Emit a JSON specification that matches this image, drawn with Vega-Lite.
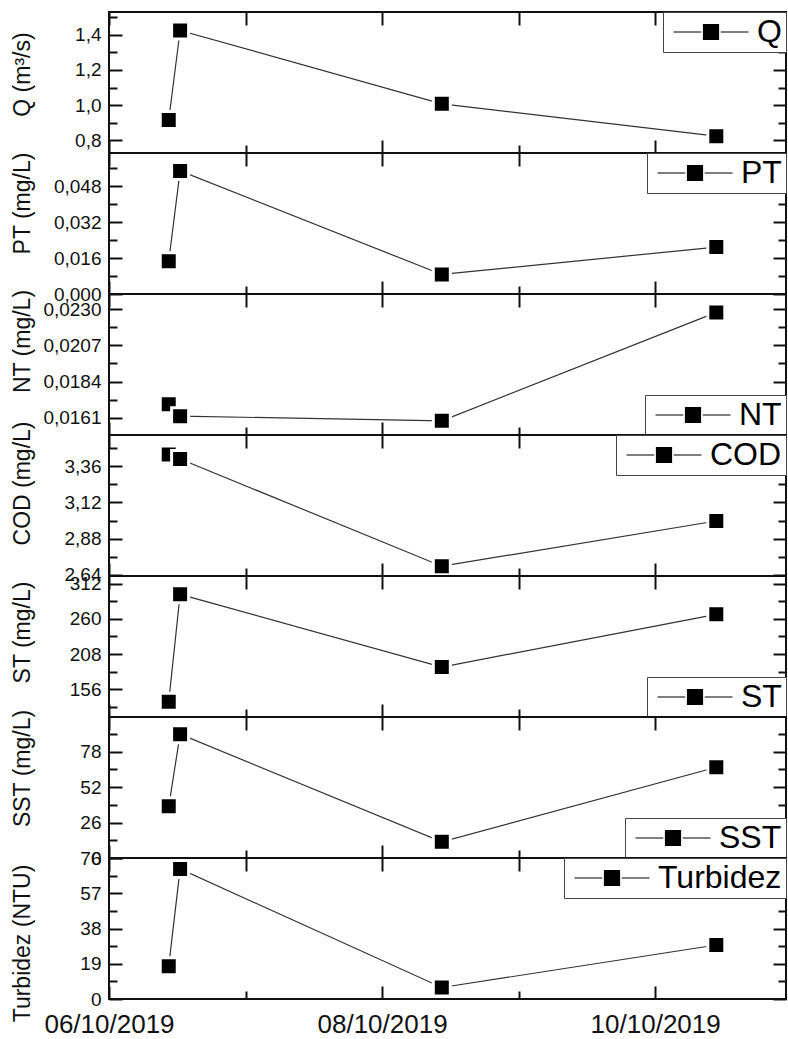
{
"$schema": "https://vega.github.io/schema/vega-lite/v6.json",
"padding": {"left": 10, "top": 10, "right": 0, "bottom": 0},
"data": {"values": [
{"serie":"Q","t":"2019-10-06T10:30:00","v":0.915},{"serie":"Q","t":"2019-10-06T12:30:00","v":1.425},{"serie":"Q","t":"2019-10-08T10:30:00","v":1.007},{"serie":"Q","t":"2019-10-10T10:45:00","v":0.823},
{"serie":"PT","t":"2019-10-06T10:30:00","v":0.0146},{"serie":"PT","t":"2019-10-06T12:30:00","v":0.0548},{"serie":"PT","t":"2019-10-08T10:30:00","v":0.0087},{"serie":"PT","t":"2019-10-10T10:45:00","v":0.0209},
{"serie":"NT","t":"2019-10-06T10:30:00","v":0.01695},{"serie":"NT","t":"2019-10-06T12:30:00","v":0.0162},{"serie":"NT","t":"2019-10-08T10:30:00","v":0.0159},{"serie":"NT","t":"2019-10-10T10:45:00","v":0.0228},
{"serie":"COD","t":"2019-10-06T10:30:00","v":3.438},{"serie":"COD","t":"2019-10-06T12:30:00","v":3.409},{"serie":"COD","t":"2019-10-08T10:30:00","v":2.697},{"serie":"COD","t":"2019-10-10T10:45:00","v":2.997},
{"serie":"ST","t":"2019-10-06T10:30:00","v":137.7},{"serie":"ST","t":"2019-10-06T12:30:00","v":296.3},{"serie":"ST","t":"2019-10-08T10:30:00","v":188.8},{"serie":"ST","t":"2019-10-10T10:45:00","v":266.8},
{"serie":"SST","t":"2019-10-06T10:30:00","v":37.9},{"serie":"SST","t":"2019-10-06T12:30:00","v":90.9},{"serie":"SST","t":"2019-10-08T10:30:00","v":11.9},{"serie":"SST","t":"2019-10-10T10:45:00","v":66.6},
{"serie":"Turbidez","t":"2019-10-06T10:30:00","v":17.7},{"serie":"Turbidez","t":"2019-10-06T12:30:00","v":70.1},{"serie":"Turbidez","t":"2019-10-08T10:30:00","v":6.2},{"serie":"Turbidez","t":"2019-10-10T10:45:00","v":29.1}
]},
"spacing": 0,
"bounds": "flush",
"resolve": {"scale": {"x": "independent", "y": "independent", "color": "independent"}, "legend": {"color": "independent"}},
"vconcat": [
{"width": 677, "height": 141, "transform": [{"filter": "datum.serie === 'Q'"}], "resolve": {"axis": {"x": "independent", "y": "independent"}},
 "layer": [
  {"mark": {"type": "line", "color": "#333", "strokeWidth": 1.2},
   "encoding": {
    "x": {"field": "t", "type": "temporal", "scale": {"domain": [{"year":2019,"month":10,"date":6},{"year":2019,"month":10,"date":10,"hours":23}], "nice": false}, "axis": {"orient": "bottom", "values": [{"year":2019,"month":10,"date":6},{"year":2019,"month":10,"date":8},{"year":2019,"month":10,"date":10}], "labels": false, "tickSize": -13, "title": null}},
    "y": {"field": "v", "type": "quantitative", "scale": {"domain": [0.727, 1.53], "nice": false, "zero": false}, "axis": {"orient": "left", "values": [0.8, 1.0, 1.2, 1.4], "labelExpr": "replace(format(datum.value, '.1f'), '.', ',')", "tickSize": -13, "labelPadding": 21, "labelFontSize": 19, "title": "Q (m³/s)", "titleFontSize": 23, "titleY": 62, "minExtent": 70, "maxExtent": 70, "titlePadding": 5}}}},
  {"mark": {"type": "point", "shape": "square", "filled": true, "size": 289, "stroke": "white", "strokeWidth": 3, "opacity": 1},
   "encoding": {
    "x": {"field": "t", "type": "temporal", "scale": {"domain": [{"year":2019,"month":10,"date":6},{"year":2019,"month":10,"date":10,"hours":23}], "nice": false}, "axis": {"orient": "bottom", "values": [{"year":2019,"month":10,"date":7},{"year":2019,"month":10,"date":9}], "labels": false, "tickSize": -8, "title": null}},
    "y": {"field": "v", "type": "quantitative", "scale": {"domain": [0.727, 1.53], "nice": false, "zero": false}, "axis": {"orient": "left", "values": [0.9, 1.1, 1.3, 1.5], "labels": false, "tickSize": -8, "title": null}},
    "color": {"field": "serie", "type": "nominal", "scale": {"range": ["black"]}, "legend": {"title": null, "orient": "top-right"}}}},
  {"mark": {"type": "point", "opacity": 0},
   "encoding": {
    "x": {"field": "t", "type": "temporal", "scale": {"domain": [{"year":2019,"month":10,"date":6},{"year":2019,"month":10,"date":10,"hours":23}], "nice": false}, "axis": {"orient": "top", "values": [{"year":2019,"month":10,"date":6},{"year":2019,"month":10,"date":7},{"year":2019,"month":10,"date":8},{"year":2019,"month":10,"date":9},{"year":2019,"month":10,"date":10}], "labels": false, "tickSize": -13, "title": null}},
    "y": {"field": "v", "type": "quantitative", "scale": {"domain": [0.727, 1.53], "nice": false, "zero": false}, "axis": {"orient": "right", "values": [0.8, 1.0, 1.2, 1.4], "labels": false, "tickSize": -13, "title": null}}}},
  {"mark": {"type": "point", "opacity": 0},
   "encoding": {
    "x": {"field": "t", "type": "temporal", "scale": {"domain": [{"year":2019,"month":10,"date":6},{"year":2019,"month":10,"date":10,"hours":23}], "nice": false}, "axis": null},
    "y": {"field": "v", "type": "quantitative", "scale": {"domain": [0.727, 1.53], "nice": false, "zero": false}, "axis": {"orient": "right", "values": [0.9, 1.1, 1.3, 1.5], "labels": false, "tickSize": -8, "title": null}}}}
 ]},
{"width": 677, "height": 141, "transform": [{"filter": "datum.serie === 'PT'"}], "resolve": {"axis": {"x": "independent", "y": "independent"}},
 "layer": [
  {"mark": {"type": "line", "color": "#333", "strokeWidth": 1.2},
   "encoding": {
    "x": {"field": "t", "type": "temporal", "scale": {"domain": [{"year":2019,"month":10,"date":6},{"year":2019,"month":10,"date":10,"hours":23}], "nice": false}, "axis": {"orient": "bottom", "values": [{"year":2019,"month":10,"date":6},{"year":2019,"month":10,"date":8},{"year":2019,"month":10,"date":10}], "labels": false, "tickSize": -13, "title": null}},
    "y": {"field": "v", "type": "quantitative", "scale": {"domain": [0, 0.0628], "nice": false, "zero": false}, "axis": {"orient": "left", "values": [0, 0.016, 0.032, 0.048], "labelExpr": "replace(format(datum.value, '.3f'), '.', ',')", "tickSize": -13, "labelPadding": 21, "labelFontSize": 19, "title": "PT (mg/L)", "titleFontSize": 23, "titleY": 50, "minExtent": 70, "maxExtent": 70, "titlePadding": 5}}}},
  {"mark": {"type": "point", "shape": "square", "filled": true, "size": 289, "stroke": "white", "strokeWidth": 3, "opacity": 1},
   "encoding": {
    "x": {"field": "t", "type": "temporal", "scale": {"domain": [{"year":2019,"month":10,"date":6},{"year":2019,"month":10,"date":10,"hours":23}], "nice": false}, "axis": {"orient": "bottom", "values": [{"year":2019,"month":10,"date":7},{"year":2019,"month":10,"date":9}], "labels": false, "tickSize": -8, "title": null}},
    "y": {"field": "v", "type": "quantitative", "scale": {"domain": [0, 0.0628], "nice": false, "zero": false}, "axis": {"orient": "left", "values": [0.008, 0.024, 0.040, 0.056], "labels": false, "tickSize": -8, "title": null}},
    "color": {"field": "serie", "type": "nominal", "scale": {"range": ["black"]}, "legend": {"title": null, "orient": "top-right"}}}},
  {"mark": {"type": "point", "opacity": 0},
   "encoding": {
    "x": {"field": "t", "type": "temporal", "scale": {"domain": [{"year":2019,"month":10,"date":6},{"year":2019,"month":10,"date":10,"hours":23}], "nice": false}, "axis": {"orient": "top", "values": [{"year":2019,"month":10,"date":6},{"year":2019,"month":10,"date":7},{"year":2019,"month":10,"date":8},{"year":2019,"month":10,"date":9},{"year":2019,"month":10,"date":10}], "labels": false, "tickSize": -13, "title": null}},
    "y": {"field": "v", "type": "quantitative", "scale": {"domain": [0, 0.0628], "nice": false, "zero": false}, "axis": {"orient": "right", "values": [0, 0.016, 0.032, 0.048], "labels": false, "tickSize": -13, "title": null}}}},
  {"mark": {"type": "point", "opacity": 0},
   "encoding": {
    "x": {"field": "t", "type": "temporal", "scale": {"domain": [{"year":2019,"month":10,"date":6},{"year":2019,"month":10,"date":10,"hours":23}], "nice": false}, "axis": null},
    "y": {"field": "v", "type": "quantitative", "scale": {"domain": [0, 0.0628], "nice": false, "zero": false}, "axis": {"orient": "right", "values": [0.008, 0.024, 0.040, 0.056], "labels": false, "tickSize": -8, "title": null}}}}
 ]},
{"width": 677, "height": 141, "transform": [{"filter": "datum.serie === 'NT'"}], "resolve": {"axis": {"x": "independent", "y": "independent"}},
 "layer": [
  {"mark": {"type": "line", "color": "#333", "strokeWidth": 1.2},
   "encoding": {
    "x": {"field": "t", "type": "temporal", "scale": {"domain": [{"year":2019,"month":10,"date":6},{"year":2019,"month":10,"date":10,"hours":23}], "nice": false}, "axis": {"orient": "bottom", "values": [{"year":2019,"month":10,"date":6},{"year":2019,"month":10,"date":8},{"year":2019,"month":10,"date":10}], "labels": false, "tickSize": -13, "title": null}},
    "y": {"field": "v", "type": "quantitative", "scale": {"domain": [0.0150, 0.02397], "nice": false, "zero": false}, "axis": {"orient": "left", "values": [0.0161, 0.0184, 0.0207, 0.0230], "labelExpr": "replace(format(datum.value, '.4f'), '.', ',')", "tickSize": -13, "labelPadding": 21, "labelFontSize": 19, "title": "NT (mg/L)", "titleFontSize": 23, "titleY": 47, "minExtent": 70, "maxExtent": 70, "titlePadding": 5}}}},
  {"mark": {"type": "point", "shape": "square", "filled": true, "size": 289, "stroke": "white", "strokeWidth": 3, "opacity": 1},
   "encoding": {
    "x": {"field": "t", "type": "temporal", "scale": {"domain": [{"year":2019,"month":10,"date":6},{"year":2019,"month":10,"date":10,"hours":23}], "nice": false}, "axis": {"orient": "bottom", "values": [{"year":2019,"month":10,"date":7},{"year":2019,"month":10,"date":9}], "labels": false, "tickSize": -8, "title": null}},
    "y": {"field": "v", "type": "quantitative", "scale": {"domain": [0.0150, 0.02397], "nice": false, "zero": false}, "axis": {"orient": "left", "values": [0.01725, 0.01955, 0.02185], "labels": false, "tickSize": -8, "title": null}},
    "color": {"field": "serie", "type": "nominal", "scale": {"range": ["black"]}, "legend": {"title": null, "orient": "bottom-right"}}}},
  {"mark": {"type": "point", "opacity": 0},
   "encoding": {
    "x": {"field": "t", "type": "temporal", "scale": {"domain": [{"year":2019,"month":10,"date":6},{"year":2019,"month":10,"date":10,"hours":23}], "nice": false}, "axis": {"orient": "top", "values": [{"year":2019,"month":10,"date":6},{"year":2019,"month":10,"date":7},{"year":2019,"month":10,"date":8},{"year":2019,"month":10,"date":9},{"year":2019,"month":10,"date":10}], "labels": false, "tickSize": -13, "title": null}},
    "y": {"field": "v", "type": "quantitative", "scale": {"domain": [0.0150, 0.02397], "nice": false, "zero": false}, "axis": {"orient": "right", "values": [0.0161, 0.0184, 0.0207, 0.0230], "labels": false, "tickSize": -13, "title": null}}}},
  {"mark": {"type": "point", "opacity": 0},
   "encoding": {
    "x": {"field": "t", "type": "temporal", "scale": {"domain": [{"year":2019,"month":10,"date":6},{"year":2019,"month":10,"date":10,"hours":23}], "nice": false}, "axis": null},
    "y": {"field": "v", "type": "quantitative", "scale": {"domain": [0.0150, 0.02397], "nice": false, "zero": false}, "axis": {"orient": "right", "values": [0.01725, 0.01955, 0.02185], "labels": false, "tickSize": -8, "title": null}}}}
 ]},
{"width": 677, "height": 141, "transform": [{"filter": "datum.serie === 'COD'"}], "resolve": {"axis": {"x": "independent", "y": "independent"}},
 "layer": [
  {"mark": {"type": "line", "color": "#333", "strokeWidth": 1.2},
   "encoding": {
    "x": {"field": "t", "type": "temporal", "scale": {"domain": [{"year":2019,"month":10,"date":6},{"year":2019,"month":10,"date":10,"hours":23}], "nice": false}, "axis": {"orient": "bottom", "values": [{"year":2019,"month":10,"date":6},{"year":2019,"month":10,"date":8},{"year":2019,"month":10,"date":10}], "labels": false, "tickSize": -13, "title": null}},
    "y": {"field": "v", "type": "quantitative", "scale": {"domain": [2.632, 3.568], "nice": false, "zero": false}, "axis": {"orient": "left", "values": [2.64, 2.88, 3.12, 3.36], "labelExpr": "replace(format(datum.value, '.2f'), '.', ',')", "tickSize": -13, "labelPadding": 21, "labelFontSize": 19, "title": "COD (mg/L)", "titleFontSize": 23, "titleY": 48, "minExtent": 70, "maxExtent": 70, "titlePadding": 5}}}},
  {"mark": {"type": "point", "shape": "square", "filled": true, "size": 289, "stroke": "white", "strokeWidth": 3, "opacity": 1},
   "encoding": {
    "x": {"field": "t", "type": "temporal", "scale": {"domain": [{"year":2019,"month":10,"date":6},{"year":2019,"month":10,"date":10,"hours":23}], "nice": false}, "axis": {"orient": "bottom", "values": [{"year":2019,"month":10,"date":7},{"year":2019,"month":10,"date":9}], "labels": false, "tickSize": -8, "title": null}},
    "y": {"field": "v", "type": "quantitative", "scale": {"domain": [2.632, 3.568], "nice": false, "zero": false}, "axis": {"orient": "left", "values": [2.76, 3.0, 3.24, 3.48], "labels": false, "tickSize": -8, "title": null}},
    "color": {"field": "serie", "type": "nominal", "scale": {"range": ["black"]}, "legend": {"title": null, "orient": "top-right"}}}},
  {"mark": {"type": "point", "opacity": 0},
   "encoding": {
    "x": {"field": "t", "type": "temporal", "scale": {"domain": [{"year":2019,"month":10,"date":6},{"year":2019,"month":10,"date":10,"hours":23}], "nice": false}, "axis": {"orient": "top", "values": [{"year":2019,"month":10,"date":6},{"year":2019,"month":10,"date":7},{"year":2019,"month":10,"date":8},{"year":2019,"month":10,"date":9},{"year":2019,"month":10,"date":10}], "labels": false, "tickSize": -13, "title": null}},
    "y": {"field": "v", "type": "quantitative", "scale": {"domain": [2.632, 3.568], "nice": false, "zero": false}, "axis": {"orient": "right", "values": [2.64, 2.88, 3.12, 3.36], "labels": false, "tickSize": -13, "title": null}}}},
  {"mark": {"type": "point", "opacity": 0},
   "encoding": {
    "x": {"field": "t", "type": "temporal", "scale": {"domain": [{"year":2019,"month":10,"date":6},{"year":2019,"month":10,"date":10,"hours":23}], "nice": false}, "axis": null},
    "y": {"field": "v", "type": "quantitative", "scale": {"domain": [2.632, 3.568], "nice": false, "zero": false}, "axis": {"orient": "right", "values": [2.76, 3.0, 3.24, 3.48], "labels": false, "tickSize": -8, "title": null}}}}
 ]},
{"width": 677, "height": 141, "transform": [{"filter": "datum.serie === 'ST'"}], "resolve": {"axis": {"x": "independent", "y": "independent"}},
 "layer": [
  {"mark": {"type": "line", "color": "#333", "strokeWidth": 1.2},
   "encoding": {
    "x": {"field": "t", "type": "temporal", "scale": {"domain": [{"year":2019,"month":10,"date":6},{"year":2019,"month":10,"date":10,"hours":23}], "nice": false}, "axis": {"orient": "bottom", "values": [{"year":2019,"month":10,"date":6},{"year":2019,"month":10,"date":8},{"year":2019,"month":10,"date":10}], "labels": false, "tickSize": -13, "title": null}},
    "y": {"field": "v", "type": "quantitative", "scale": {"domain": [115, 323.4], "nice": false, "zero": false}, "axis": {"orient": "left", "values": [156, 208, 260, 312], "format": "d", "tickSize": -13, "labelPadding": 21, "labelFontSize": 19, "title": "ST (mg/L)", "titleFontSize": 23, "titleY": 56, "minExtent": 70, "maxExtent": 70, "titlePadding": 5}}}},
  {"mark": {"type": "point", "shape": "square", "filled": true, "size": 289, "stroke": "white", "strokeWidth": 3, "opacity": 1},
   "encoding": {
    "x": {"field": "t", "type": "temporal", "scale": {"domain": [{"year":2019,"month":10,"date":6},{"year":2019,"month":10,"date":10,"hours":23}], "nice": false}, "axis": {"orient": "bottom", "values": [{"year":2019,"month":10,"date":7},{"year":2019,"month":10,"date":9}], "labels": false, "tickSize": -8, "title": null}},
    "y": {"field": "v", "type": "quantitative", "scale": {"domain": [115, 323.4], "nice": false, "zero": false}, "axis": {"orient": "left", "values": [130, 182, 234, 286], "labels": false, "tickSize": -8, "title": null}},
    "color": {"field": "serie", "type": "nominal", "scale": {"range": ["black"]}, "legend": {"title": null, "orient": "bottom-right"}}}},
  {"mark": {"type": "point", "opacity": 0},
   "encoding": {
    "x": {"field": "t", "type": "temporal", "scale": {"domain": [{"year":2019,"month":10,"date":6},{"year":2019,"month":10,"date":10,"hours":23}], "nice": false}, "axis": {"orient": "top", "values": [{"year":2019,"month":10,"date":6},{"year":2019,"month":10,"date":7},{"year":2019,"month":10,"date":8},{"year":2019,"month":10,"date":9},{"year":2019,"month":10,"date":10}], "labels": false, "tickSize": -13, "title": null}},
    "y": {"field": "v", "type": "quantitative", "scale": {"domain": [115, 323.4], "nice": false, "zero": false}, "axis": {"orient": "right", "values": [156, 208, 260, 312], "labels": false, "tickSize": -13, "title": null}}}},
  {"mark": {"type": "point", "opacity": 0},
   "encoding": {
    "x": {"field": "t", "type": "temporal", "scale": {"domain": [{"year":2019,"month":10,"date":6},{"year":2019,"month":10,"date":10,"hours":23}], "nice": false}, "axis": null},
    "y": {"field": "v", "type": "quantitative", "scale": {"domain": [115, 323.4], "nice": false, "zero": false}, "axis": {"orient": "right", "values": [130, 182, 234, 286], "labels": false, "tickSize": -8, "title": null}}}}
 ]},
{"width": 677, "height": 141, "transform": [{"filter": "datum.serie === 'SST'"}], "resolve": {"axis": {"x": "independent", "y": "independent"}},
 "layer": [
  {"mark": {"type": "line", "color": "#333", "strokeWidth": 1.2},
   "encoding": {
    "x": {"field": "t", "type": "temporal", "scale": {"domain": [{"year":2019,"month":10,"date":6},{"year":2019,"month":10,"date":10,"hours":23}], "nice": false}, "axis": {"orient": "bottom", "values": [{"year":2019,"month":10,"date":6},{"year":2019,"month":10,"date":8},{"year":2019,"month":10,"date":10}], "labels": false, "tickSize": -13, "title": null}},
    "y": {"field": "v", "type": "quantitative", "scale": {"domain": [0, 103.5], "nice": false, "zero": false}, "axis": {"orient": "left", "values": [0, 26, 52, 78], "format": "d", "tickSize": -13, "labelPadding": 21, "labelFontSize": 19, "title": "SST (mg/L)", "titleFontSize": 23, "titleY": 51, "minExtent": 70, "maxExtent": 70, "titlePadding": 5}}}},
  {"mark": {"type": "point", "shape": "square", "filled": true, "size": 289, "stroke": "white", "strokeWidth": 3, "opacity": 1},
   "encoding": {
    "x": {"field": "t", "type": "temporal", "scale": {"domain": [{"year":2019,"month":10,"date":6},{"year":2019,"month":10,"date":10,"hours":23}], "nice": false}, "axis": {"orient": "bottom", "values": [{"year":2019,"month":10,"date":7},{"year":2019,"month":10,"date":9}], "labels": false, "tickSize": -8, "title": null}},
    "y": {"field": "v", "type": "quantitative", "scale": {"domain": [0, 103.5], "nice": false, "zero": false}, "axis": {"orient": "left", "values": [13, 39, 65, 91], "labels": false, "tickSize": -8, "title": null}},
    "color": {"field": "serie", "type": "nominal", "scale": {"range": ["black"]}, "legend": {"title": null, "orient": "bottom-right"}}}},
  {"mark": {"type": "point", "opacity": 0},
   "encoding": {
    "x": {"field": "t", "type": "temporal", "scale": {"domain": [{"year":2019,"month":10,"date":6},{"year":2019,"month":10,"date":10,"hours":23}], "nice": false}, "axis": {"orient": "top", "values": [{"year":2019,"month":10,"date":6},{"year":2019,"month":10,"date":7},{"year":2019,"month":10,"date":8},{"year":2019,"month":10,"date":9},{"year":2019,"month":10,"date":10}], "labels": false, "tickSize": -13, "title": null}},
    "y": {"field": "v", "type": "quantitative", "scale": {"domain": [0, 103.5], "nice": false, "zero": false}, "axis": {"orient": "right", "values": [0, 26, 52, 78], "labels": false, "tickSize": -13, "title": null}}}},
  {"mark": {"type": "point", "opacity": 0},
   "encoding": {
    "x": {"field": "t", "type": "temporal", "scale": {"domain": [{"year":2019,"month":10,"date":6},{"year":2019,"month":10,"date":10,"hours":23}], "nice": false}, "axis": null},
    "y": {"field": "v", "type": "quantitative", "scale": {"domain": [0, 103.5], "nice": false, "zero": false}, "axis": {"orient": "right", "values": [13, 39, 65, 91], "labels": false, "tickSize": -8, "title": null}}}}
 ]},
{"width": 677, "height": 141, "transform": [{"filter": "datum.serie === 'Turbidez'"}], "resolve": {"axis": {"x": "independent", "y": "independent"}},
 "layer": [
  {"mark": {"type": "line", "color": "#333", "strokeWidth": 1.2},
   "encoding": {
    "x": {"field": "t", "type": "temporal", "scale": {"domain": [{"year":2019,"month":10,"date":6},{"year":2019,"month":10,"date":10,"hours":23}], "nice": false}, "axis": {"orient": "bottom", "values": [{"year":2019,"month":10,"date":6},{"year":2019,"month":10,"date":8},{"year":2019,"month":10,"date":10}], "format": "%d/%m/%Y", "labels": true, "tickSize": -13, "labelPadding": 25, "labelFontSize": 26, "title": null}},
    "y": {"field": "v", "type": "quantitative", "scale": {"domain": [0, 76], "nice": false, "zero": false}, "axis": {"orient": "left", "values": [0, 19, 38, 57, 76], "format": "d", "tickSize": -13, "labelPadding": 21, "labelFontSize": 19, "title": "Turbidez (NTU)", "titleFontSize": 23, "titleY": 85, "minExtent": 70, "maxExtent": 70, "titlePadding": 5}}}},
  {"mark": {"type": "point", "shape": "square", "filled": true, "size": 289, "stroke": "white", "strokeWidth": 3, "opacity": 1},
   "encoding": {
    "x": {"field": "t", "type": "temporal", "scale": {"domain": [{"year":2019,"month":10,"date":6},{"year":2019,"month":10,"date":10,"hours":23}], "nice": false}, "axis": {"orient": "bottom", "values": [{"year":2019,"month":10,"date":7},{"year":2019,"month":10,"date":9}], "labels": false, "tickSize": -8, "title": null}},
    "y": {"field": "v", "type": "quantitative", "scale": {"domain": [0, 76], "nice": false, "zero": false}, "axis": {"orient": "left", "values": [9.5, 28.5, 47.5, 66.5], "labels": false, "tickSize": -8, "title": null}},
    "color": {"field": "serie", "type": "nominal", "scale": {"range": ["black"]}, "legend": {"title": null, "orient": "top-right"}}}},
  {"mark": {"type": "point", "opacity": 0},
   "encoding": {
    "x": {"field": "t", "type": "temporal", "scale": {"domain": [{"year":2019,"month":10,"date":6},{"year":2019,"month":10,"date":10,"hours":23}], "nice": false}, "axis": {"orient": "top", "values": [{"year":2019,"month":10,"date":6},{"year":2019,"month":10,"date":7},{"year":2019,"month":10,"date":8},{"year":2019,"month":10,"date":9},{"year":2019,"month":10,"date":10}], "labels": false, "tickSize": -13, "title": null}},
    "y": {"field": "v", "type": "quantitative", "scale": {"domain": [0, 76], "nice": false, "zero": false}, "axis": {"orient": "right", "values": [0, 19, 38, 57, 76], "labels": false, "tickSize": -13, "title": null}}}},
  {"mark": {"type": "point", "opacity": 0},
   "encoding": {
    "x": {"field": "t", "type": "temporal", "scale": {"domain": [{"year":2019,"month":10,"date":6},{"year":2019,"month":10,"date":10,"hours":23}], "nice": false}, "axis": null},
    "y": {"field": "v", "type": "quantitative", "scale": {"domain": [0, 76], "nice": false, "zero": false}, "axis": {"orient": "right", "values": [9.5, 28.5, 47.5, 66.5], "labels": false, "tickSize": -8, "title": null}}}}
 ]}
],
"config": {
  "font": "Liberation Sans",
  "view": {"stroke": "#111", "strokeWidth": 2},
  "axis": {"grid": false, "domain": false, "tickColor": "#111", "tickWidth": 2, "labelColor": "#111", "titleColor": "#111", "labelOverlap": false, "labelFlush": false, "labelBound": false, "titleFontWeight": "normal", "labelFont": "Liberation Sans", "titleFont": "Liberation Sans"},
  "legend": {"symbolType": "M-5,0H-1.3M1.3,0H5M-1,-1H1V1H-1Z", "symbolSize": 225, "symbolFillColor": "black", "symbolStrokeColor": "black", "symbolStrokeWidth": 1.2, "labelFontSize": 32, "labelFont": "Liberation Sans", "labelColor": "black", "padding": 4, "strokeColor": "#444", "fillColor": "white", "symbolOffset": 28, "labelOffset": 30, "offset": 0, "cornerRadius": 0, "labelLimit": 300}
}
}
